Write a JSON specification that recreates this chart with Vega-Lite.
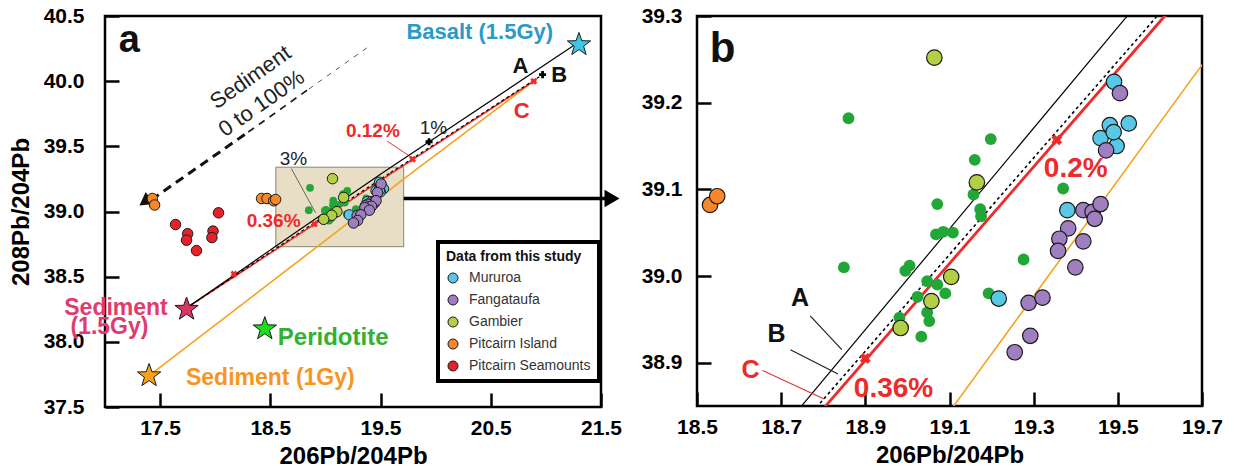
{
  "$schema": "https://vega.github.io/schema/vega-lite/v6.json",
  "background": "white",
  "padding": {"left": 7, "top": 3, "right": 5, "bottom": 3},
  "spacing": 16,
  "resolve": {"scale": {"color": "independent"}},
  "datasets": {
    "pts": [
      {"g": "Mururoa", "x": 19.491, "y": 39.224},
      {"g": "Mururoa", "x": 19.481, "y": 39.174},
      {"g": "Mururoa", "x": 19.526, "y": 39.176},
      {"g": "Mururoa", "x": 19.459, "y": 39.159},
      {"g": "Mururoa", "x": 19.497, "y": 39.15},
      {"g": "Mururoa", "x": 19.49, "y": 39.166},
      {"g": "Mururoa", "x": 19.38, "y": 39.076},
      {"g": "Mururoa", "x": 19.217, "y": 38.974},
      {"g": "Fangataufa", "x": 19.505, "y": 39.211},
      {"g": "Fangataufa", "x": 19.472, "y": 39.145},
      {"g": "Fangataufa", "x": 19.418, "y": 39.076},
      {"g": "Fangataufa", "x": 19.44, "y": 39.074},
      {"g": "Fangataufa", "x": 19.445, "y": 39.066},
      {"g": "Fangataufa", "x": 19.459, "y": 39.083},
      {"g": "Fangataufa", "x": 19.382, "y": 39.055},
      {"g": "Fangataufa", "x": 19.361, "y": 39.043},
      {"g": "Fangataufa", "x": 19.418, "y": 39.04},
      {"g": "Fangataufa", "x": 19.358, "y": 39.029},
      {"g": "Fangataufa", "x": 19.399, "y": 39.01},
      {"g": "Fangataufa", "x": 19.288, "y": 38.969},
      {"g": "Fangataufa", "x": 19.321, "y": 38.975},
      {"g": "Fangataufa", "x": 19.292, "y": 38.931},
      {"g": "Fangataufa", "x": 19.255, "y": 38.912},
      {"g": "Gambier", "x": 19.064, "y": 39.252},
      {"g": "Gambier", "x": 19.165, "y": 39.108},
      {"g": "Gambier", "x": 19.104, "y": 38.999},
      {"g": "Gambier", "x": 19.057, "y": 38.971},
      {"g": "Gambier", "x": 18.984, "y": 38.94},
      {"g": "Pitcairn Island", "x": 17.43, "y": 39.1},
      {"g": "Pitcairn Island", "x": 17.45, "y": 39.05},
      {"g": "Pitcairn Island", "x": 18.42, "y": 39.1},
      {"g": "Pitcairn Island", "x": 18.47, "y": 39.1},
      {"g": "Pitcairn Island", "x": 18.531, "y": 39.082},
      {"g": "Pitcairn Island", "x": 18.548, "y": 39.092},
      {"g": "Pitcairn Seamounts", "x": 17.64, "y": 38.9},
      {"g": "Pitcairn Seamounts", "x": 17.75, "y": 38.83},
      {"g": "Pitcairn Seamounts", "x": 17.74, "y": 38.78},
      {"g": "Pitcairn Seamounts", "x": 17.83, "y": 38.7},
      {"g": "Pitcairn Seamounts", "x": 17.98, "y": 38.85},
      {"g": "Pitcairn Seamounts", "x": 17.97, "y": 38.8},
      {"g": "Pitcairn Seamounts", "x": 18.03, "y": 38.99}
    ]
  },
  "hconcat": [
    {
      "width": 496,
      "height": 391,
      "encoding": {
        "x": {"field": "x", "type": "quantitative", "scale": {"domain": [17, 21.5], "nice": false, "zero": false},
              "axis": {"values": [17.5, 18.5, 19.5, 20.5, 21.5], "format": ".1f", "title": "206Pb/204Pb", "labelPadding": 24, "titlePadding": 6}},
        "y": {"field": "y", "type": "quantitative", "scale": {"domain": [37.5, 40.5], "nice": false, "zero": false},
              "axis": {"values": [37.5, 38, 38.5, 39, 39.5, 40, 40.5], "format": ".1f", "title": "208Pb/204Pb", "labelPadding": 35, "titlePadding": 10}}
      },
      "layer": [
        {"data": {"values": [{"x": 18.55, "x2": 19.71, "y": 38.73, "y2": 39.34}]},
         "mark": {"type": "rect", "fill": "#e8dec6", "stroke": "#8a8474", "strokeWidth": 1},
         "encoding": {"x2": {"field": "x2"}, "y2": {"field": "y2"}}},
        {"data": {"values": [{"x": 17.42, "y": 39.09, "x2": 18.3, "y2": 39.61}]},
         "mark": {"type": "rule", "color": "#111", "strokeWidth": 3, "strokeDash": [9, 6]},
         "encoding": {"x2": {"field": "x2"}, "y2": {"field": "y2"}}},
        {"data": {"values": [{"x": 18.3, "y": 39.61, "x2": 18.85, "y2": 39.94}]},
         "mark": {"type": "rule", "color": "#222", "strokeWidth": 1.8, "strokeDash": [7, 6]},
         "encoding": {"x2": {"field": "x2"}, "y2": {"field": "y2"}}},
        {"data": {"values": [{"x": 18.85, "y": 39.94, "x2": 19.4, "y2": 40.27}]},
         "mark": {"type": "rule", "color": "#555", "strokeWidth": 1, "strokeDash": [5, 6]},
         "encoding": {"x2": {"field": "x2"}, "y2": {"field": "y2"}}},
        {"data": {"values": [{"x": 17.36, "y": 39.075}]},
         "mark": {"type": "point", "shape": "triangle-right", "filled": true, "color": "#111", "opacity": 1, "size": 220, "angle": 145}},
        {"data": {"values": [{"x": 19.71, "x2": 21.57, "y": 39.1}]},
         "mark": {"type": "rule", "color": "black", "strokeWidth": 3.5},
         "encoding": {"x2": {"field": "x2"}}},
        {"data": {"values": [{"x": 21.6, "y": 39.1}]},
         "mark": {"type": "point", "shape": "triangle-right", "filled": true, "color": "black", "opacity": 1, "size": 300}},
        {"data": {"values": [{"x": 19.56, "y": 39.54, "x2": 19.79, "y2": 39.41}]},
         "mark": {"type": "rule", "color": "#e8303a", "strokeWidth": 1},
         "encoding": {"x2": {"field": "x2"}, "y2": {"field": "y2"}}},
        {"data": {"values": [{"x": 18.69, "y": 39.33, "x2": 18.91, "y2": 38.99}]},
         "mark": {"type": "rule", "color": "#666", "strokeWidth": 1},
         "encoding": {"x2": {"field": "x2"}, "y2": {"field": "y2"}}},
        {"data": {"values": [
           {"x": 17.4, "y": 37.74, "x2": 19.107, "y2": 38.848},
           {"x": 19.107, "y": 38.848, "x2": 19.693, "y2": 39.239},
           {"x": 19.693, "y": 39.239, "x2": 20.89, "y2": 40.0}]},
         "mark": {"type": "rule", "color": "#f7a21d", "strokeWidth": 1.6},
         "encoding": {"x2": {"field": "x2"}, "y2": {"field": "y2"}}},
        {"data": {"values": [
           {"x": 17.74, "y": 38.26, "x2": 18.802, "y2": 38.848},
           {"x": 18.802, "y": 38.848, "x2": 19.608, "y2": 39.298},
           {"x": 19.608, "y": 39.298, "x2": 20.89, "y2": 40.0}]},
         "mark": {"type": "rule", "color": "#ee2a2a", "strokeWidth": 1.6},
         "encoding": {"x2": {"field": "x2"}, "y2": {"field": "y2"}}},
        {"data": {"values": [
           {"x": 17.74, "y": 38.26, "x2": 18.745, "y2": 38.848},
           {"x": 18.745, "y": 38.848, "x2": 19.519, "y2": 39.298},
           {"x": 19.519, "y": 39.298, "x2": 21.3, "y2": 40.3}]},
         "mark": {"type": "rule", "color": "black", "strokeWidth": 1.2},
         "encoding": {"x2": {"field": "x2"}, "y2": {"field": "y2"}}},
        {"data": {"values": [
           {"x": 17.74, "y": 38.26, "x2": 18.783, "y2": 38.848},
           {"x": 18.783, "y": 38.848, "x2": 19.59, "y2": 39.298},
           {"x": 19.59, "y": 39.298, "x2": 20.97, "y2": 40.05}]},
         "mark": {"type": "rule", "color": "black", "strokeWidth": 1.2, "strokeDash": [3, 3]},
         "encoding": {"x2": {"field": "x2"}, "y2": {"field": "y2"}}},
        {"data": {"values": [
           {"x": 18.86, "y": 39.182}, {"x": 19.198, "y": 39.158}, {"x": 19.16, "y": 39.134},
           {"x": 19.157, "y": 39.094}, {"x": 19.071, "y": 39.083}, {"x": 19.173, "y": 39.077},
           {"x": 19.175, "y": 39.069}, {"x": 19.068, "y": 39.048}, {"x": 19.085, "y": 39.051},
           {"x": 19.108, "y": 39.05}, {"x": 19.37, "y": 39.101}, {"x": 18.849, "y": 39.01},
           {"x": 18.995, "y": 39.006}, {"x": 19.005, "y": 39.012}, {"x": 19.276, "y": 39.019},
           {"x": 19.193, "y": 38.98}, {"x": 19.047, "y": 38.994}, {"x": 19.024, "y": 38.976},
           {"x": 19.071, "y": 38.99}, {"x": 19.09, "y": 38.98}, {"x": 19.047, "y": 38.958},
           {"x": 19.052, "y": 38.948}, {"x": 18.981, "y": 38.952}, {"x": 19.033, "y": 38.93}]},
         "mark": {"type": "point", "shape": "circle", "filled": true, "color": "#22a638", "opacity": 1, "size": 60}},
        {"data": {"name": "pts"},
         "mark": {"type": "point", "shape": "circle", "filled": true, "opacity": 1, "size": 110, "stroke": "#1a1a1a", "strokeWidth": 1},
         "encoding": {"color": {"field": "g", "type": "nominal",
           "scale": {"domain": ["Mururoa", "Fangataufa", "Gambier", "Pitcairn Island", "Pitcairn Seamounts"],
                     "range": ["#58c8e6", "#a07fc1", "#b3cf45", "#f5892a", "#e3232b"]},
           "legend": {"title": "Data from this study", "orient": "none", "legendX": 333, "legendY": 226}}}},
        {"data": {"values": [{"x": 18.17, "y": 38.52}, {"x": 18.9, "y": 38.905}, {"x": 19.79, "y": 39.4}, {"x": 20.89, "y": 40.0}]},
         "mark": {"type": "point", "shape": "cross", "filled": true, "color": "#ee2a2a", "opacity": 1, "size": 50, "angle": 45}},
        {"data": {"values": [{"x": 19.94, "y": 39.535}, {"x": 20.97, "y": 40.05}]},
         "mark": {"type": "point", "shape": "cross", "filled": true, "color": "black", "opacity": 1, "size": 50}},
        {"data": {"values": [{"x": 21.3, "y": 40.28}]},
         "mark": {"type": "point", "shape": "M 0 -1 L 0.235 -0.324 L 0.951 -0.309 L 0.38 0.124 L 0.588 0.809 L 0 0.4 L -0.588 0.809 L -0.38 0.124 L -0.951 -0.309 L -0.235 -0.324 Z", "filled": true, "opacity": 1, "size": 600, "color": "#3cc7e8", "stroke": "#1a1a1a", "strokeWidth": 1}},
        {"data": {"values": [{"x": 17.74, "y": 38.25}]},
         "mark": {"type": "point", "shape": "M 0 -1 L 0.235 -0.324 L 0.951 -0.309 L 0.38 0.124 L 0.588 0.809 L 0 0.4 L -0.588 0.809 L -0.38 0.124 L -0.951 -0.309 L -0.235 -0.324 Z", "filled": true, "opacity": 1, "size": 600, "color": "#d63866", "stroke": "#1a1a1a", "strokeWidth": 1}},
        {"data": {"values": [{"x": 18.45, "y": 38.1}]},
         "mark": {"type": "point", "shape": "M 0 -1 L 0.235 -0.324 L 0.951 -0.309 L 0.38 0.124 L 0.588 0.809 L 0 0.4 L -0.588 0.809 L -0.38 0.124 L -0.951 -0.309 L -0.235 -0.324 Z", "filled": true, "opacity": 1, "size": 600, "color": "#1fdc1f", "stroke": "#1a1a1a", "strokeWidth": 1}},
        {"data": {"values": [{"x": 17.4, "y": 37.74}]},
         "mark": {"type": "point", "shape": "M 0 -1 L 0.235 -0.324 L 0.951 -0.309 L 0.38 0.124 L 0.588 0.809 L 0 0.4 L -0.588 0.809 L -0.38 0.124 L -0.951 -0.309 L -0.235 -0.324 Z", "filled": true, "opacity": 1, "size": 600, "color": "#f7a21d", "stroke": "#1a1a1a", "strokeWidth": 1}},
        {"data": {"values": [{"t": "a", "x": 17.22, "y": 40.31}]},
         "mark": {"type": "text", "font": "Liberation Sans", "fontSize": 38, "fontWeight": "bold", "color": "#111"},
         "encoding": {"text": {"field": "t", "type": "nominal"}}},
        {"data": {"values": [{"t": "Basalt (1.5Gy)", "x": 20.4, "y": 40.38}]},
         "mark": {"type": "text", "font": "Liberation Sans", "fontSize": 22, "fontWeight": "bold", "color": "#2a9bc9"},
         "encoding": {"text": {"field": "t", "type": "nominal"}}},
        {"data": {"values": [{"t": "A", "x": 20.77, "y": 40.12}, {"t": "B", "x": 21.12, "y": 40.05}]},
         "mark": {"type": "text", "font": "Liberation Sans", "fontSize": 22, "fontWeight": "bold", "color": "#111"},
         "encoding": {"text": {"field": "t", "type": "nominal"}}},
        {"data": {"values": [{"t": "C", "x": 20.78, "y": 39.77}]},
         "mark": {"type": "text", "font": "Liberation Sans", "fontSize": 22, "fontWeight": "bold", "color": "#ee2a2a"},
         "encoding": {"text": {"field": "t", "type": "nominal"}}},
        {"data": {"values": [{"t": "0.12%", "x": 19.43, "y": 39.62}, {"t": "0.36%", "x": 18.53, "y": 38.93}]},
         "mark": {"type": "text", "font": "Liberation Sans", "fontSize": 19, "fontWeight": "bold", "color": "#ee2a2a"},
         "encoding": {"text": {"field": "t", "type": "nominal"}}},
        {"data": {"values": [{"t": "1%", "x": 19.98, "y": 39.64}, {"t": "3%", "x": 18.71, "y": 39.4}]},
         "mark": {"type": "text", "font": "Liberation Sans", "fontSize": 19, "color": "#222"},
         "encoding": {"text": {"field": "t", "type": "nominal"}}},
        {"data": {"values": [{"t": "Sediment", "x": 18.32, "y": 40.03}, {"t": "0 to 100%", "x": 18.42, "y": 39.83}]},
         "mark": {"type": "text", "font": "Liberation Sans", "fontSize": 22, "color": "#222", "angle": 325},
         "encoding": {"text": {"field": "t", "type": "nominal"}}},
        {"data": {"values": [{"t": "Sediment", "x": 17.1, "y": 38.26}, {"t": "(1.5Gy)", "x": 17.04, "y": 38.11}]},
         "mark": {"type": "text", "font": "Liberation Sans", "fontSize": 23, "fontWeight": "bold", "color": "#e13a6e"},
         "encoding": {"text": {"field": "t", "type": "nominal"}}},
        {"data": {"values": [{"t": "Peridotite", "x": 19.07, "y": 38.03}]},
         "mark": {"type": "text", "font": "Liberation Sans", "fontSize": 24, "fontWeight": "bold", "color": "#33b02f"},
         "encoding": {"text": {"field": "t", "type": "nominal"}}},
        {"data": {"values": [{"t": "Sediment (1Gy)", "x": 18.5, "y": 37.72}]},
         "mark": {"type": "text", "font": "Liberation Sans", "fontSize": 23, "fontWeight": "bold", "color": "#f5961f"},
         "encoding": {"text": {"field": "t", "type": "nominal"}}}
      ]
    },
    {
      "width": 505,
      "height": 390,
      "encoding": {
        "x": {"field": "x", "type": "quantitative", "scale": {"domain": [18.5, 19.7], "nice": false, "zero": false},
              "axis": {"values": [18.5, 18.7, 18.9, 19.1, 19.3, 19.5, 19.7], "format": ".1f", "title": "206Pb/204Pb", "labelPadding": 24, "titlePadding": 6}},
        "y": {"field": "y", "type": "quantitative", "scale": {"domain": [38.85, 39.3], "nice": false, "zero": false},
              "axis": {"values": [38.9, 39.0, 39.1, 39.2, 39.3], "format": ".1f", "title": null, "labelPadding": 29}}
      },
      "layer": [
        {"data": {"values": [
           {"x": 17.4, "y": 37.74, "x2": 19.107, "y2": 38.848},
           {"x": 19.107, "y": 38.848, "x2": 19.693, "y2": 39.239},
           {"x": 19.693, "y": 39.239, "x2": 20.89, "y2": 40.0}]},
         "mark": {"type": "rule", "color": "#f7a21d", "strokeWidth": 1.6, "clip": true},
         "encoding": {"x2": {"field": "x2"}, "y2": {"field": "y2"}}},
        {"data": {"values": [
           {"x": 17.74, "y": 38.26, "x2": 18.745, "y2": 38.848},
           {"x": 18.745, "y": 38.848, "x2": 19.519, "y2": 39.298},
           {"x": 19.519, "y": 39.298, "x2": 21.3, "y2": 40.3}]},
         "mark": {"type": "rule", "color": "black", "strokeWidth": 1.2, "clip": true},
         "encoding": {"x2": {"field": "x2"}, "y2": {"field": "y2"}}},
        {"data": {"values": [
           {"x": 17.74, "y": 38.26, "x2": 18.783, "y2": 38.848},
           {"x": 18.783, "y": 38.848, "x2": 19.59, "y2": 39.298},
           {"x": 19.59, "y": 39.298, "x2": 20.97, "y2": 40.05}]},
         "mark": {"type": "rule", "color": "black", "strokeWidth": 1.6, "strokeDash": [3, 3], "clip": true},
         "encoding": {"x2": {"field": "x2"}, "y2": {"field": "y2"}}},
        {"data": {"values": [
           {"x": 17.74, "y": 38.26, "x2": 18.802, "y2": 38.848},
           {"x": 18.802, "y": 38.848, "x2": 19.608, "y2": 39.298},
           {"x": 19.608, "y": 39.298, "x2": 20.89, "y2": 40.0}]},
         "mark": {"type": "rule", "color": "#ee2a2a", "strokeWidth": 2.8, "clip": true},
         "encoding": {"x2": {"field": "x2"}, "y2": {"field": "y2"}}},
        {"data": {"values": [
           {"x": 18.86, "y": 39.182}, {"x": 19.198, "y": 39.158}, {"x": 19.16, "y": 39.134},
           {"x": 19.157, "y": 39.094}, {"x": 19.071, "y": 39.083}, {"x": 19.173, "y": 39.077},
           {"x": 19.175, "y": 39.069}, {"x": 19.068, "y": 39.048}, {"x": 19.085, "y": 39.051},
           {"x": 19.108, "y": 39.05}, {"x": 19.37, "y": 39.101}, {"x": 18.849, "y": 39.01},
           {"x": 18.995, "y": 39.006}, {"x": 19.005, "y": 39.012}, {"x": 19.276, "y": 39.019},
           {"x": 19.193, "y": 38.98}, {"x": 19.047, "y": 38.994}, {"x": 19.024, "y": 38.976},
           {"x": 19.071, "y": 38.99}, {"x": 19.09, "y": 38.98}, {"x": 19.047, "y": 38.958},
           {"x": 19.052, "y": 38.948}, {"x": 18.981, "y": 38.952}, {"x": 19.033, "y": 38.93}]},
         "mark": {"type": "point", "shape": "circle", "filled": true, "color": "#22a638", "opacity": 1, "size": 140, "clip": true}},
        {"data": {"name": "pts"},
         "mark": {"type": "point", "shape": "circle", "filled": true, "opacity": 1, "size": 240, "stroke": "#1a1a1a", "strokeWidth": 1.2, "clip": true},
         "encoding": {"color": {"field": "g", "type": "nominal",
           "scale": {"domain": ["Mururoa", "Fangataufa", "Gambier", "Pitcairn Island", "Pitcairn Seamounts"],
                     "range": ["#58c8e6", "#a07fc1", "#b3cf45", "#f5892a", "#e3232b"]},
           "legend": null}}},
        {"data": {"values": [{"x": 18.9, "y": 38.905}, {"x": 19.355, "y": 39.157}]},
         "mark": {"type": "point", "shape": "cross", "filled": true, "color": "#ee2a2a", "opacity": 1, "size": 120, "angle": 45}},
        {"data": {"values": [{"x": 18.769, "y": 38.954, "x2": 18.844, "y2": 38.915}, {"x": 18.722, "y": 38.915, "x2": 18.835, "y2": 38.887}]},
         "mark": {"type": "rule", "color": "#222", "strokeWidth": 1.2},
         "encoding": {"x2": {"field": "x2"}, "y2": {"field": "y2"}}},
        {"data": {"values": [{"x": 18.656, "y": 38.891, "x2": 18.802, "y2": 38.858}]},
         "mark": {"type": "rule", "color": "#e8303a", "strokeWidth": 1.2},
         "encoding": {"x2": {"field": "x2"}, "y2": {"field": "y2"}}},
        {"data": {"values": [{"t": "b", "x": 18.561, "y": 39.262}]},
         "mark": {"type": "text", "font": "Liberation Sans", "fontSize": 42, "fontWeight": "bold", "color": "#111"},
         "encoding": {"text": {"field": "t", "type": "nominal"}}},
        {"data": {"values": [{"t": "A", "x": 18.745, "y": 38.975}, {"t": "B", "x": 18.689, "y": 38.933}]},
         "mark": {"type": "text", "font": "Liberation Sans", "fontSize": 25, "fontWeight": "bold", "color": "#111"},
         "encoding": {"text": {"field": "t", "type": "nominal"}}},
        {"data": {"values": [{"t": "C", "x": 18.627, "y": 38.892}]},
         "mark": {"type": "text", "font": "Liberation Sans", "fontSize": 25, "fontWeight": "bold", "color": "#ee2a2a"},
         "encoding": {"text": {"field": "t", "type": "nominal"}}},
        {"data": {"values": [{"t": "0.36%", "x": 18.967, "y": 38.87}, {"t": "0.2%", "x": 19.4, "y": 39.123}]},
         "mark": {"type": "text", "font": "Liberation Sans", "fontSize": 28, "fontWeight": "bold", "color": "#ee2a2a"},
         "encoding": {"text": {"field": "t", "type": "nominal"}}}
      ]
    }
  ],
  "config": {
    "view": {"stroke": "black", "strokeWidth": 2.5},
    "axis": {
      "domain": false, "grid": false, "ticks": true, "tickSize": -14, "tickWidth": 2.5, "tickColor": "black",
      "labelFont": "Liberation Sans", "labelFontSize": 21, "labelFontWeight": "bold", "labelColor": "black",
      "labelFlush": false, "labelOverlap": false,
      "titleFont": "Liberation Sans", "titleFontSize": 24, "titleFontWeight": "bold", "titleColor": "black"
    },
    "legend": {
      "padding": 8, "strokeColor": "black", "strokeWidth": 4, "fillColor": "white",
      "titleFont": "Liberation Sans", "titleFontSize": 14, "titleFontWeight": "bold", "titleColor": "#111",
      "labelFont": "Liberation Sans", "labelFontSize": 14, "labelColor": "#333",
      "rowPadding": 8, "symbolSize": 100, "symbolType": "circle", "symbolStrokeColor": "#1a1a1a", "symbolStrokeWidth": 1,
      "symbolOpacity": 1, "titlePadding": 7, "labelOffset": 9
    }
  }
}
